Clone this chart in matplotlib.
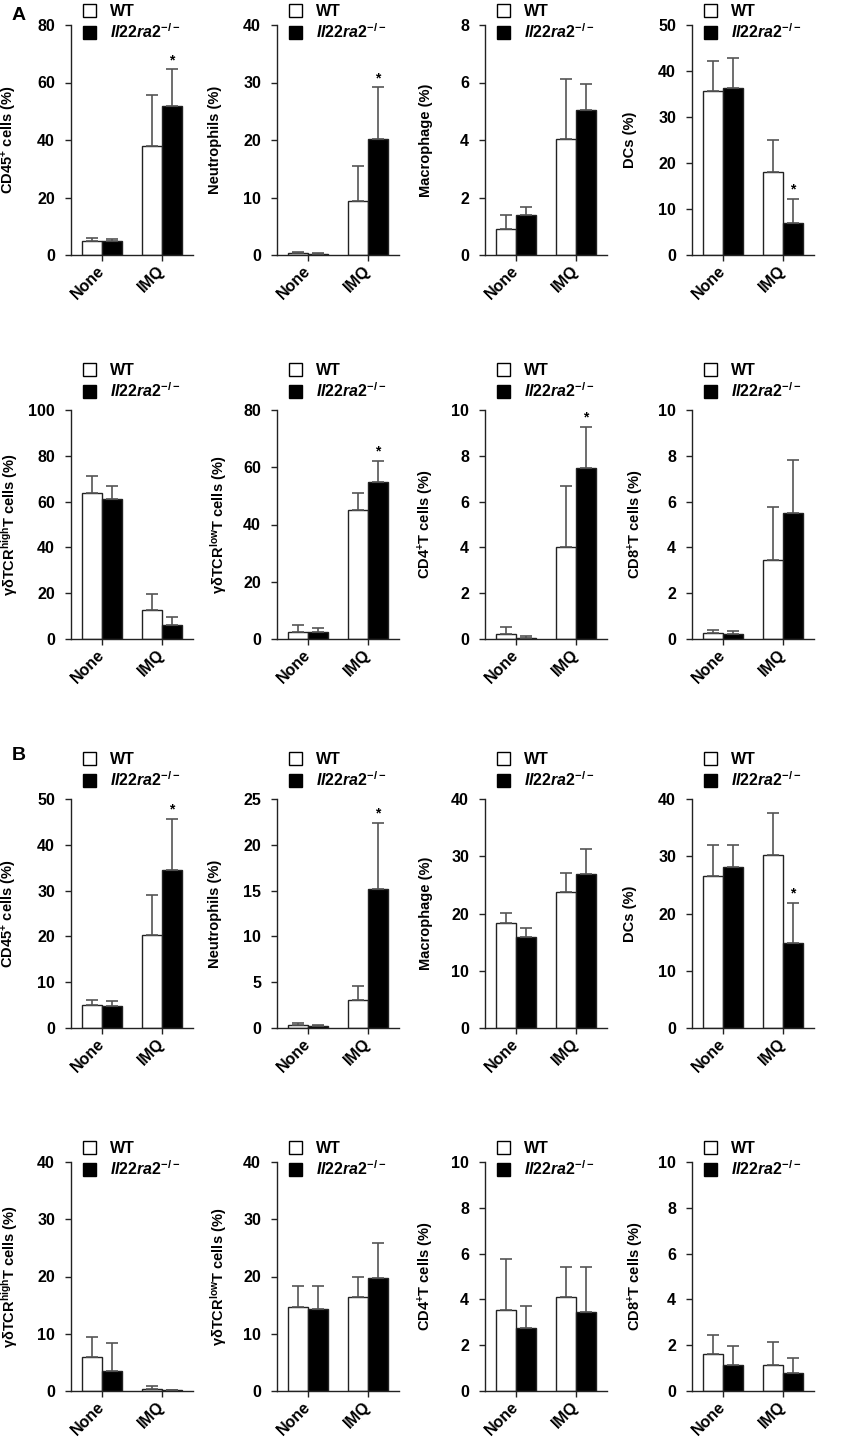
import matplotlib
matplotlib.use("Agg")
import matplotlib.pyplot as plt
from matplotlib.patches import Patch

plt.rcParams['font.family'] = ['Liberation Sans', 'DejaVu Sans']
plt.rcParams['font.weight'] = 'bold'
plt.rcParams['mathtext.fontset'] = 'custom'
plt.rcParams['mathtext.rm'] = 'Liberation Sans:bold'
plt.rcParams['mathtext.it'] = 'Liberation Sans:bold:italic'
plt.rcParams['mathtext.bf'] = 'Liberation Sans:bold'
plt.rcParams['mathtext.default'] = 'rm'

# ---------------- data ----------------
groups = ["None", "IMQ"]
legend_labels = ["WT", r"$\mathit{Il22ra2}^{\mathit{-/-}}$"]

# Panel A, row 1
A_cd45_wt = [4.9, 38.0];   A_cd45_wt_sd = [1.1, 17.5]
A_cd45_ko = [5.0, 52.0];   A_cd45_ko_sd = [0.6, 12.6]
A_neu_wt = [0.3, 9.4];     A_neu_wt_sd = [0.2, 6.1]
A_neu_ko = [0.2, 20.2];    A_neu_ko_sd = [0.2, 9.0]
A_mac_wt = [0.89, 4.02];   A_mac_wt_sd = [0.49, 2.09]
A_mac_ko = [1.40, 5.03];   A_mac_ko_sd = [0.27, 0.93]
A_dc_wt = [35.6, 18.0];    A_dc_wt_sd = [6.5, 7.0]
A_dc_ko = [36.2, 7.0];     A_dc_ko_sd = [6.6, 5.2]
# Panel A, row 2
A_gdh_wt = [63.8, 12.7];   A_gdh_wt_sd = [7.3, 7.0]
A_gdh_ko = [61.1, 6.1];    A_gdh_ko_sd = [5.5, 3.4]
A_gdl_wt = [2.6, 45.1];    A_gdl_wt_sd = [2.3, 5.9]
A_gdl_ko = [2.4, 54.7];    A_gdl_ko_sd = [1.6, 7.6]
A_cd4_wt = [0.22, 4.02];   A_cd4_wt_sd = [0.29, 2.68]
A_cd4_ko = [0.06, 7.45];   A_cd4_ko_sd = [0.09, 1.82]
A_cd8_wt = [0.28, 3.47];   A_cd8_wt_sd = [0.11, 2.30]
A_cd8_ko = [0.22, 5.51];   A_cd8_ko_sd = [0.14, 2.29]
# Panel B, row 3
B_cd45_wt = [5.0, 20.4];   B_cd45_wt_sd = [1.2, 8.7]
B_cd45_ko = [4.8, 34.5];   B_cd45_ko_sd = [1.0, 11.2]
B_neu_wt = [0.36, 3.05];   B_neu_wt_sd = [0.22, 1.49]
B_neu_ko = [0.25, 15.15];  B_neu_ko_sd = [0.08, 7.25]
B_mac_wt = [18.3, 23.7];   B_mac_wt_sd = [1.8, 3.3]
B_mac_ko = [15.9, 26.9];   B_mac_ko_sd = [1.5, 4.4]
B_dc_wt = [26.6, 30.2];    B_dc_wt_sd = [5.4, 7.3]
B_dc_ko = [28.2, 14.9];    B_dc_ko_sd = [3.7, 7.0]
# Panel B, row 4
B_gdh_wt = [5.96, 0.40];   B_gdh_wt_sd = [3.44, 0.48]
B_gdh_ko = [3.45, 0.12];   B_gdh_ko_sd = [4.95, 0.06]
B_gdl_wt = [14.6, 16.35];  B_gdl_wt_sd = [3.8, 3.5]
B_gdl_ko = [14.25, 19.7];  B_gdl_ko_sd = [4.15, 6.2]
B_cd4_wt = [3.53, 4.09];   B_cd4_wt_sd = [2.25, 1.34]
B_cd4_ko = [2.77, 3.43];   B_cd4_ko_sd = [0.94, 2.00]
B_cd8_wt = [1.62, 1.15];   B_cd8_wt_sd = [0.83, 1.01]
B_cd8_ko = [1.15, 0.79];   B_cd8_ko_sd = [0.81, 0.63]

lab_cd45 = r"CD45$^{+}$ cells (%)"
lab_neu = "Neutrophils (%)"
lab_mac = "Macrophage (%)"
lab_dc = "DCs (%)"
lab_gdh = r"γδTCR$^{high}$T cells (%)"
lab_gdl = r"γδTCR$^{low}$T cells (%)"
lab_cd4 = r"CD4$^{+}$T cells (%)"
lab_cd8 = r"CD8$^{+}$T cells (%)"

rows = [
    [(lab_cd45, 80, 20, A_cd45_wt, A_cd45_wt_sd, A_cd45_ko, A_cd45_ko_sd, [False, True]),
     (lab_neu, 40, 10, A_neu_wt, A_neu_wt_sd, A_neu_ko, A_neu_ko_sd, [False, True]),
     (lab_mac, 8, 2, A_mac_wt, A_mac_wt_sd, A_mac_ko, A_mac_ko_sd, [False, False]),
     (lab_dc, 50, 10, A_dc_wt, A_dc_wt_sd, A_dc_ko, A_dc_ko_sd, [False, True])],
    [(lab_gdh, 100, 20, A_gdh_wt, A_gdh_wt_sd, A_gdh_ko, A_gdh_ko_sd, [False, False]),
     (lab_gdl, 80, 20, A_gdl_wt, A_gdl_wt_sd, A_gdl_ko, A_gdl_ko_sd, [False, True]),
     (lab_cd4, 10, 2, A_cd4_wt, A_cd4_wt_sd, A_cd4_ko, A_cd4_ko_sd, [False, True]),
     (lab_cd8, 10, 2, A_cd8_wt, A_cd8_wt_sd, A_cd8_ko, A_cd8_ko_sd, [False, False])],
    [(lab_cd45, 50, 10, B_cd45_wt, B_cd45_wt_sd, B_cd45_ko, B_cd45_ko_sd, [False, True]),
     (lab_neu, 25, 5, B_neu_wt, B_neu_wt_sd, B_neu_ko, B_neu_ko_sd, [False, True]),
     (lab_mac, 40, 10, B_mac_wt, B_mac_wt_sd, B_mac_ko, B_mac_ko_sd, [False, False]),
     (lab_dc, 40, 10, B_dc_wt, B_dc_wt_sd, B_dc_ko, B_dc_ko_sd, [False, True])],
    [(lab_gdh, 40, 10, B_gdh_wt, B_gdh_wt_sd, B_gdh_ko, B_gdh_ko_sd, [False, False]),
     (lab_gdl, 40, 10, B_gdl_wt, B_gdl_wt_sd, B_gdl_ko, B_gdl_ko_sd, [False, False]),
     (lab_cd4, 10, 2, B_cd4_wt, B_cd4_wt_sd, B_cd4_ko, B_cd4_ko_sd, [False, False]),
     (lab_cd8, 10, 2, B_cd8_wt, B_cd8_wt_sd, B_cd8_ko, B_cd8_ko_sd, [False, False])],
]

# ylabel right-edge position (axes fraction) per label
ylab_pos = {lab_cd45: -0.425, lab_neu: -0.45, lab_mac: -0.43, lab_dc: -0.45,
            lab_gdh: -0.415, lab_gdl: -0.39, lab_cd4: -0.40, lab_cd8: -0.38}

# ---------------- layout ----------------
W, H = 849, 1440
fig = plt.figure(figsize=(W / 100, H / 100), dpi=100)
col_left = [71, 277, 485, 692]
ax_w = 122
row_tb = [(25, 255), (410, 639), (799, 1028), (1162, 1391)]
legend_y = [1.09, 1.205, 1.205, 1.09]

bw = 0.333
ink = '#222222'
ecol = '#555555'
fs_tick = 11.5

for r, row in enumerate(rows):
    top, bot = row_tb[r]
    for c, (ylab, ymax, step, wt, wtsd, ko, kosd, star) in enumerate(row):
        ax = fig.add_axes([col_left[c] / W, 1 - bot / H, ax_w / W, (bot - top) / H])
        xs = range(len(groups))
        xw = [x - bw / 2 for x in xs]
        xk = [x + bw / 2 for x in xs]
        ax.bar(xw, wt, width=bw, color='white', edgecolor=ink, linewidth=1.0, zorder=2)
        ax.bar(xk, ko, width=bw, color='black', edgecolor=ink, linewidth=1.0, zorder=2)
        ax.errorbar(xw, wt, yerr=[[0] * len(wt), wtsd], fmt='none', ecolor=ecol,
                    elinewidth=1.2, capsize=4.6, capthick=1.2, zorder=3)
        ax.errorbar(xk, ko, yerr=[[0] * len(ko), kosd], fmt='none', ecolor=ecol,
                    elinewidth=1.2, capsize=4.6, capthick=1.2, zorder=3)
        for i, s in enumerate(star):
            if s:
                ax.annotate('*', xy=(xk[i], ko[i] + kosd[i]), xytext=(0, 1.5),
                            textcoords='offset points', ha='center', va='bottom',
                            fontsize=10, fontweight='bold', color='black')
        ax.set_xlim(-0.52, 1.52)
        ax.set_ylim(0, ymax)
        ax.set_yticks([v * step for v in range(int(round(ymax / step)) + 1)])
        ax.set_xticks(list(xs))
        ax.set_xticklabels(groups, rotation=45, ha='right', va='center',
                           rotation_mode='anchor', fontsize=fs_tick, fontweight='bold')
        for t in ax.get_yticklabels():
            t.set_fontsize(fs_tick)
            t.set_fontweight('bold')
        ax.spines['top'].set_visible(False)
        ax.spines['right'].set_visible(False)
        for sp in ('left', 'bottom'):
            ax.spines[sp].set_color(ink)
            ax.spines[sp].set_linewidth(1.0)
        ax.tick_params(axis='y', direction='out', length=4.5, width=1.0, color=ink, pad=7)
        ax.tick_params(axis='x', direction='out', length=4.5, width=1.0, color=ink, pad=5)
        ax.set_ylabel(ylab, fontsize=10.5, fontweight='bold')
        ax.yaxis.set_label_coords(ylab_pos[ylab], 0.5)
        handles = [Patch(facecolor='white', edgecolor='black', linewidth=1.0),
                   Patch(facecolor='black', edgecolor='black', linewidth=1.0)]
        ax.legend(handles, legend_labels, loc='upper left',
                  bbox_to_anchor=(0.095, legend_y[r]), frameon=False,
                  handlelength=0.85, handleheight=0.85, handletextpad=0.85,
                  labelspacing=0.2, borderpad=0, borderaxespad=0,
                  prop={'weight': 'bold', 'size': 11.5})

fig.text(12 / W, 1 - 15 / H, 'A', fontsize=14, fontweight='bold', ha='left', va='center')
fig.text(12 / W, 1 - 755 / H, 'B', fontsize=14, fontweight='bold', ha='left', va='center')

fig.savefig('out.png', dpi=100)
